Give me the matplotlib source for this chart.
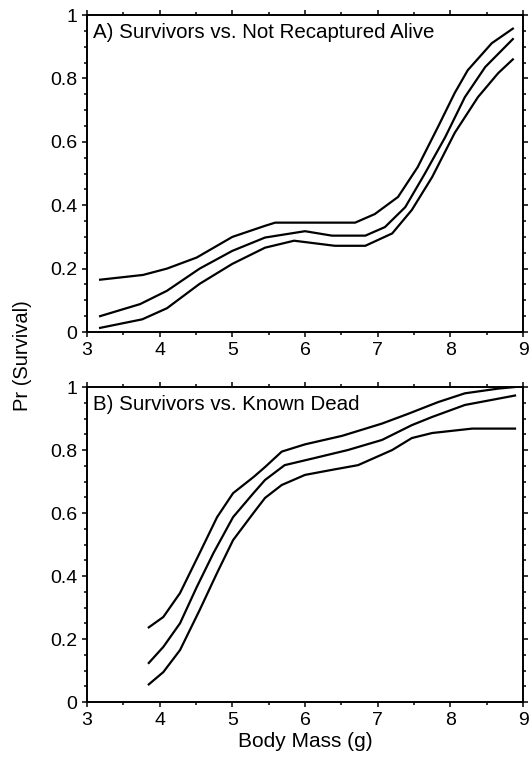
import matplotlib
matplotlib.use("Agg")
import matplotlib.pyplot as plt
from matplotlib.ticker import MultipleLocator, FixedLocator, FuncFormatter

plt.rcParams['font.family'] = ['Liberation Sans', 'DejaVu Sans']

# Panel A: Survivors vs. Not Recaptured Alive
a_up_x = [3.18, 3.77, 4.10, 4.51, 5.00, 5.45, 5.59, 6.69, 6.96, 7.28, 7.55, 7.83, 8.06, 8.24, 8.57, 8.86]
a_up_y = [0.165, 0.180, 0.200, 0.235, 0.300, 0.335, 0.345, 0.345, 0.372, 0.426, 0.520, 0.647, 0.754, 0.826, 0.911, 0.957]
a_mid_x = [3.18, 3.73, 4.10, 4.55, 5.00, 5.45, 6.00, 6.37, 6.83, 7.10, 7.38, 7.65, 7.93, 8.20, 8.48, 8.86]
a_mid_y = [0.050, 0.088, 0.130, 0.200, 0.256, 0.298, 0.318, 0.304, 0.304, 0.331, 0.394, 0.500, 0.615, 0.741, 0.836, 0.924]
a_lo_x = [3.18, 3.76, 4.10, 4.55, 5.00, 5.45, 5.85, 6.41, 6.83, 7.20, 7.47, 7.75, 8.06, 8.38, 8.66, 8.86]
a_lo_y = [0.013, 0.040, 0.075, 0.152, 0.215, 0.266, 0.288, 0.272, 0.272, 0.311, 0.385, 0.489, 0.628, 0.741, 0.817, 0.860]

# Panel B: Survivors vs. Known Dead
b_up_x = [3.85, 4.05, 4.28, 4.55, 4.79, 5.01, 5.29, 5.45, 5.68, 6.00, 6.51, 7.06, 7.42, 7.83, 8.20, 8.66, 8.89]
b_up_y = [0.237, 0.270, 0.346, 0.473, 0.587, 0.663, 0.714, 0.746, 0.795, 0.818, 0.845, 0.884, 0.915, 0.952, 0.980, 0.995, 1.000]
b_mid_x = [3.85, 4.05, 4.28, 4.51, 4.74, 5.01, 5.29, 5.45, 5.72, 6.14, 6.59, 7.06, 7.47, 7.75, 8.20, 8.89]
b_mid_y = [0.124, 0.175, 0.250, 0.365, 0.473, 0.587, 0.663, 0.705, 0.752, 0.775, 0.800, 0.832, 0.879, 0.905, 0.943, 0.973]
b_lo_x = [3.85, 4.05, 4.28, 4.55, 4.79, 5.01, 5.29, 5.45, 5.68, 6.00, 6.37, 6.73, 7.20, 7.47, 7.75, 8.30, 8.89]
b_lo_y = [0.056, 0.095, 0.165, 0.292, 0.410, 0.514, 0.600, 0.648, 0.689, 0.721, 0.737, 0.752, 0.800, 0.838, 0.854, 0.868, 0.868]

titles = ["A) Survivors vs. Not Recaptured Alive", "B) Survivors vs. Known Dead"]
x_ticks = [3, 4, 5, 6, 7, 8, 9]
y_ticks = [0, 0.2, 0.4, 0.6, 0.8, 1]

fig = plt.figure(figsize=(5.30, 7.62), dpi=100)
axA = fig.add_axes([0.1642, 0.5643, 0.8226, 0.4160])
axB = fig.add_axes([0.1642, 0.0787, 0.8226, 0.4134])

panels = [
    (axA, [(a_up_x, a_up_y), (a_mid_x, a_mid_y), (a_lo_x, a_lo_y)]),
    (axB, [(b_up_x, b_up_y), (b_mid_x, b_mid_y), (b_lo_x, b_lo_y)]),
]

def yfmt(v, pos):
    if abs(v) < 1e-9:
        return "0"
    if abs(v - 1) < 1e-9:
        return "1"
    return f"{v:.1f}"

for (ax, series), title in zip(panels, titles):
    for xs, ys in series:
        ax.plot(xs, ys, color='black', lw=1.6, solid_joinstyle='round')
    ax.set_xlim(3, 9)
    ax.set_ylim(0, 1)
    ax.xaxis.set_major_locator(FixedLocator(x_ticks))
    ax.xaxis.set_minor_locator(MultipleLocator(0.5))
    ax.yaxis.set_major_locator(FixedLocator(y_ticks))
    ax.yaxis.set_minor_locator(MultipleLocator(0.05))
    ax.yaxis.set_major_formatter(FuncFormatter(yfmt))
    ax.tick_params(which='both', direction='out', top=True, right=True,
                   labelsize=14, width=1.1, color='black')
    ax.tick_params(which='major', length=3.5, pad=3.5)
    ax.tick_params(which='minor', length=2.2)
    for s in ax.spines.values():
        s.set_linewidth(1.4)
    ax.text(0.014, 0.976, title, transform=ax.transAxes, ha='left', va='top',
            fontsize=14.8)

axB.set_xlabel("Body Mass (g)", fontsize=15, labelpad=2)
fig.text(0.042, 0.533, "Pr (Survival)", rotation=90, ha='center', va='center',
         fontsize=14.5)

fig.savefig("out.png", dpi=100)
